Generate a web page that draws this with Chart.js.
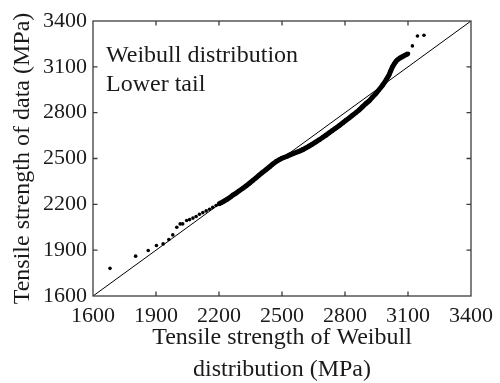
<!DOCTYPE html>
<html>
<head>
<meta charset="utf-8">
<script src="https://cdn.jsdelivr.net/npm/chart.js@4.4.1/dist/chart.umd.min.js"></script>
<style>
  html, body { margin: 0; padding: 0; background: #fff; }
  #wrap { width: 500px; height: 383px; }
</style>
</head>
<body>
<div id="wrap"><canvas id="c" width="500" height="383"></canvas></div>
<script>
// Weibull Q-Q plot, lower tail: theoretical quantiles (x) vs. observed strengths (y), MPa
const tickValues = [1600, 1900, 2200, 2500, 2800, 3100, 3400];

// sparse points of the lower tail
const tailX = [1681, 1803, 1863, 1902, 1934, 1961, 1980, 1999, 2015, 2027, 2046, 2060, 2076, 2091, 2107, 2123, 2139, 2155, 2170, 2186];
const tailY = [1781, 1861, 1898, 1931, 1941, 1970, 2000, 2050, 2072, 2072, 2094, 2100, 2110, 2120, 2135, 2146, 2157, 2168, 2180, 2192];

// dense body of the sample
const bodyX = [2200, 2210, 2225, 2240, 2255, 2266, 2280, 2295, 2314, 2330, 2345, 2360, 2375, 2390, 2405, 2425, 2441, 2455, 2472, 2488, 2500, 2512, 2525, 2535, 2550, 2567, 2583, 2599, 2615, 2630, 2645, 2660, 2678, 2695, 2710, 2725, 2740, 2755, 2772, 2790, 2805, 2820, 2836, 2852, 2867, 2883, 2900, 2915, 2930, 2947, 2962, 2978, 2994, 3010, 3018, 3026, 3034, 3042, 3050, 3062, 3075, 3088, 3100];
const bodyY = [2203, 2210, 2222, 2234, 2248, 2260, 2272, 2287, 2305, 2322, 2338, 2355, 2372, 2390, 2407, 2428, 2446, 2462, 2480, 2493, 2502, 2508, 2515, 2522, 2530, 2539, 2548, 2558, 2570, 2582, 2594, 2607, 2623, 2639, 2653, 2668, 2683, 2698, 2715, 2734, 2750, 2765, 2783, 2800, 2817, 2838, 2860, 2877, 2900, 2925, 2950, 2978, 3010, 3048, 3075, 3100, 3118, 3134, 3146, 3158, 3168, 3177, 3185];

// largest observations, upper end
const topX = [3121, 3145, 3176];
const topY = [3237, 3302, 3307];

// reference line y = x
const refLine = [1600, 3400];

const noteLines = ['Weibull distribution', 'Lower tail'];
const xTitle = ['Tensile strength of Weibull', 'distribution (MPa)'];
const yTitle = 'Tensile strength of data (MPa)';

const FONT = '"Liberation Serif", "Times New Roman", serif';
const INK = '#1a1a1a';

const pairs = (xs, ys) => xs.map((x, i) => ({ x: x, y: ys[i] }));

const framePlugin = {
  id: 'frame',
  afterDraw(chart) {
    const { ctx, chartArea: a, scales } = chart;
    ctx.save();
    ctx.strokeStyle = '#3c3c3c';
    ctx.lineWidth = 1.3;
    ctx.strokeRect(a.left, a.top, a.right - a.left, a.bottom - a.top);
    // inward tick marks on all four sides
    const len = 4.5;
    ctx.beginPath();
    tickValues.forEach(v => {
      const px = scales.x.getPixelForValue(v);
      const py = scales.y.getPixelForValue(v);
      if (px > a.left + 1 && px < a.right - 1) {
        ctx.moveTo(px, a.bottom); ctx.lineTo(px, a.bottom - len);
        ctx.moveTo(px, a.top); ctx.lineTo(px, a.top + len);
      }
      if (py > a.top + 1 && py < a.bottom - 1) {
        ctx.moveTo(a.left, py); ctx.lineTo(a.left + len, py);
        ctx.moveTo(a.right, py); ctx.lineTo(a.right - len, py);
      }
    });
    ctx.stroke();
    // in-plot note
    ctx.fillStyle = INK;
    ctx.font = '24px ' + FONT;
    ctx.textBaseline = 'alphabetic';
    ctx.textAlign = 'left';
    noteLines.forEach((t, i) => ctx.fillText(t, a.left + 13, a.top + 41 + i * 29));
    ctx.restore();
  }
};

new Chart(document.getElementById('c'), {
  type: 'scatter',
  data: {
    datasets: [
      {
        label: 'y = x',
        type: 'line',
        data: pairs(refLine, refLine),
        borderColor: '#000',
        borderWidth: 1,
        pointRadius: 0,
        fill: false,
        order: 2
      },
      {
        label: 'lower tail',
        data: pairs(tailX, tailY),
        backgroundColor: '#000',
        borderColor: '#000',
        pointRadius: 1.8,
        pointBorderWidth: 0,
        order: 1
      },
      {
        label: 'body',
        data: pairs(bodyX, bodyY),
        showLine: true,
        borderColor: '#000',
        borderWidth: 5,
        backgroundColor: '#000',
        pointRadius: 2.3,
        pointBorderWidth: 0,
        tension: 0,
        order: 1
      },
      {
        label: 'upper end',
        data: pairs(topX, topY),
        backgroundColor: '#000',
        borderColor: '#000',
        pointRadius: 1.8,
        pointBorderWidth: 0,
        order: 1
      }
    ]
  },
  options: {
    responsive: false,
    animation: false,
    devicePixelRatio: 1,
    layout: { padding: { left: 0, right: 28, top: 21, bottom: 0 } },
    plugins: { legend: { display: false }, tooltip: { enabled: false } },
    scales: {
      x: {
        type: 'linear',
        min: 1600, max: 3400,
        afterBuildTicks(s) { s.ticks = tickValues.map(v => ({ value: v })); },
        afterFit(s) { s.height = 87; },
        grid: { display: false, drawTicks: false },
        border: { display: false },
        ticks: { color: INK, font: { family: FONT, size: 22 }, padding: 7, maxRotation: 0, autoSkip: false, callback: v => String(v) },
        title: { display: true, text: xTitle, color: INK, font: { family: FONT, size: 24, lineHeight: '32px' }, padding: { top: 0, bottom: -3 } }
      },
      y: {
        type: 'linear',
        min: 1600, max: 3400,
        afterBuildTicks(s) { s.ticks = tickValues.map(v => ({ value: v })); },
        afterFit(s) { s.width = 93; },
        grid: { display: false, drawTicks: false },
        border: { display: false },
        ticks: { color: INK, font: { family: FONT, size: 22 }, padding: 6, autoSkip: false, callback: v => String(v) },
        title: { display: true, text: yTitle, color: INK, font: { family: FONT, size: 24 }, padding: { top: 8, bottom: 0 } }
      }
    }
  },
  plugins: [framePlugin]
});
</script>
</body>
</html>
